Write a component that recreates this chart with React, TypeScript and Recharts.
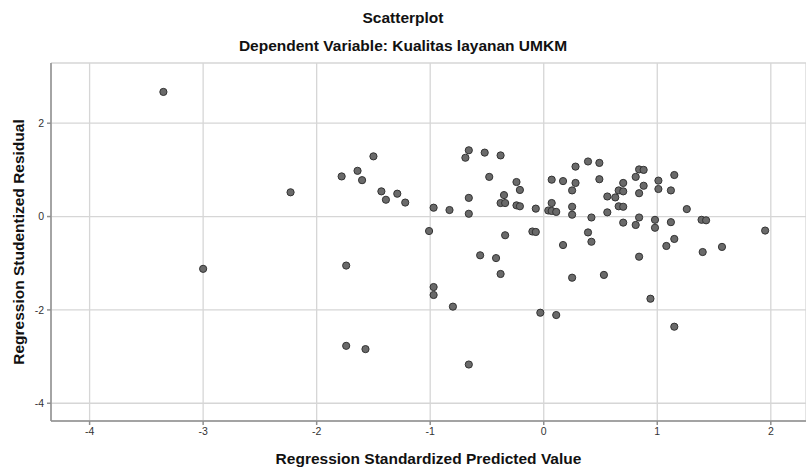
import React from 'react';
import { ScatterChart, Scatter, XAxis, YAxis, CartesianGrid } from 'recharts';

// standardized predicted value (x) and studentized residual (y)
const predicted = [
  -3.35, -3.0, -2.23, -1.78, -1.74, -1.74, -1.64, -1.6, -1.57, -1.5,
  -1.43, -1.39, -1.29, -1.22, -1.01, -0.97, -0.97, -0.97, -0.83, -0.8,
  -0.69, -0.66, -0.66, -0.66, -0.66, -0.56, -0.52, -0.48, -0.42, -0.38,
  -0.38, -0.34, -0.35, -0.38, -0.34, -0.24, -0.21, -0.24, -0.21, -0.1,
  -0.07, -0.07, -0.03, 0.04, 0.07, 0.11, 0.07, 0.07, 0.11, 0.17,
  0.17, 0.25, 0.25, 0.25, 0.25, 0.28, 0.28, 0.39, 0.39, 0.42,
  0.42, 0.49, 0.49, 0.53, 0.56, 0.56, 0.63, 0.66, 0.7, 0.7,
  0.66, 0.7, 0.7, 0.81, 0.84, 0.81, 0.84, 0.88, 0.88, 0.84,
  0.84, 0.94, 0.98, 0.98, 1.01, 1.01, 1.08, 1.12, 1.15, 1.12,
  1.15, 1.15, 1.26, 1.39, 1.43, 1.4, 1.57, 1.95,
];
const residual = [
  2.67, -1.12, 0.52, 0.86, -1.05, -2.77, 0.98, 0.78, -2.84, 1.29,
  0.54, 0.36, 0.49, 0.3, -0.31, 0.19, -1.51, -1.68, 0.14, -1.93,
  1.26, 1.42, 0.4, 0.06, -3.17, -0.83, 1.37, 0.85, -0.89, 1.31,
  0.29, 0.29, 0.46, -1.23, -0.4, 0.74, 0.57, 0.24, 0.22, -0.32,
  -0.33, 0.17, -2.06, 0.13, 0.12, 0.1, 0.29, 0.79, -2.11, 0.76,
  -0.61, 0.56, 0.21, 0.04, -1.31, 1.07, 0.72, 1.18, -0.34, -0.02,
  -0.54, 1.15, 0.8, -1.25, 0.43, 0.09, 0.41, 0.56, 0.54, 0.72,
  0.22, 0.21, -0.13, -0.18, -0.02, 0.85, 1.01, 1.0, 0.66, 0.5,
  -0.86, -1.76, -0.07, -0.24, 0.77, 0.59, -0.63, 0.56, 0.89, -0.12,
  -0.48, -2.36, 0.16, -0.07, -0.08, -0.76, -0.65, -0.3,
];
const xTicks = [-4, -3, -2, -1, 0, 1, 2];
const yTicks = [-4, -2, 0, 2];

const points = predicted.map((x, i) => ({ x, y: residual[i] }));

const font = '"Liberation Sans", Arial, sans-serif';
const titleStyle: React.CSSProperties = {
  position: 'absolute', left: 0, width: 806, textAlign: 'center',
  fontSize: 15.5, fontWeight: 'bold', color: '#111',
};
const axisLabel = { fontSize: 15.5, fontWeight: 'bold', fill: '#111', fontFamily: font };

export default function App() {
  return (
    <div style={{ position: 'relative', width: 806, height: 469, background: '#fff', fontFamily: font }}>
      <style>{'body{margin:0}'}</style>
      <div style={{ ...titleStyle, top: 9 }}>Scatterplot</div>
      <div style={{ ...titleStyle, top: 37 }}>Dependent Variable: Kualitas layanan UMKM</div>
      <ScatterChart width={806} height={469} margin={{ top: 63, right: 0, bottom: 0, left: 0 }}>
        <CartesianGrid stroke="#d6d6d6" strokeWidth={1.3} />
        <XAxis
          type="number"
          dataKey="x"
          domain={[-4.34, 2.31]}
          ticks={xTicks}
          allowDataOverflow
          height={48}
          stroke="#8f8f8f"
          strokeWidth={1.5}
          tickSize={4}
          tickMargin={3}
          tick={{ fontSize: 10.5, fill: '#333', fontFamily: font }}
          label={{ value: 'Regression Standardized Predicted Value', position: 'insideBottom', offset: 5, style: axisLabel }}
        />
        <YAxis
          type="number"
          dataKey="y"
          domain={[-4.38, 3.29]}
          ticks={yTicks}
          allowDataOverflow
          width={51}
          stroke="#8f8f8f"
          strokeWidth={1.5}
          tickSize={4}
          tickMargin={3}
          tick={{ fontSize: 10.5, fill: '#333', fontFamily: font }}
          label={{ value: 'Regression Studentized Residual', angle: -90, position: 'insideLeft', offset: 18, style: { ...axisLabel, textAnchor: 'middle' } }}
        />
        <Scatter
          data={points}
          fill="#6a6a6a"
          isAnimationActive={false}
          shape={(p: any) => <circle cx={p.cx} cy={p.cy} r={3.6} fill="#6a6a6a" stroke="#333" strokeWidth={1} />}
        />
      </ScatterChart>
    </div>
  );
}
